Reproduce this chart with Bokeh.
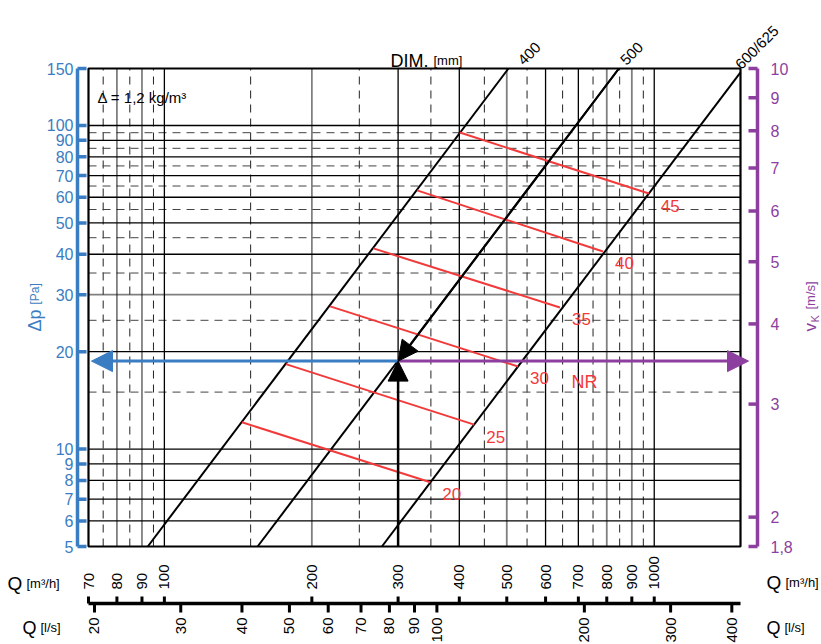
import math
from bokeh.plotting import figure
from bokeh.models import Range1d, LogScale, Arrow, NormalHead, ColumnDataSource
from bokeh.core.properties import value
from bokeh.embed import file_html
from bokeh.resources import INLINE

# ---------------- data ----------------
dp_min, dp_max = 5, 150          # Δp axis extent [Pa]
q_min, q_max = 70, 1500          # Q axis extent [m3/h]
v_min, v_max = 1.8, 10           # vK axis extent [m/s]

dp_ticks = [5, 6, 7, 8, 9, 10, 20, 30, 40, 50, 60, 70, 80, 90, 100, 150]
v_ticks = [1.8, 2, 3, 4, 5, 6, 7, 8, 9, 10]
v_tick_labels = ["1,8", "2", "3", "4", "5", "6", "7", "8", "9", "10"]
q_m3h_ticks = [70, 80, 90, 100, 200, 300, 400, 500, 600, 700, 800, 900, 1000]
q_ls_ticks = [20, 30, 40, 50, 60, 70, 80, 90, 100, 200, 300, 400]

grid_q_solid = [100, 300, 400, 600, 700, 1000]
grid_q_dotted = [80, 90, 200, 500, 800, 900]
grid_q_dashed = [75, 85, 95, 150, 250, 350, 450, 550, 650, 750, 850, 950]
grid_dp_solid = [6, 7, 8, 9, 10, 20, 40, 50, 60, 70, 80, 90, 100]
grid_dp_dotted = [30]
grid_dp_dashed = [15, 25, 35, 45, 55, 65, 75, 85, 95]

dim_labels = ["400", "500", "600/625"]
dim_q_bottom = [92.5, 155, 278]      # Q where each DIM line meets 5 Pa
dim_q_top = [504, 847, 1500]
dim_dp_top = [150, 150, 146]

nr_levels = [20, 25, 30, 35, 40, 45]
nr_q_start = [144, 177, 218, 267, 328, 401]
nr_dp_start = [12.1, 18.3, 27.6, 41.7, 63.0, 95.1]
nr_q_end = [349, 429, 527, 642, 786, 975]
nr_dp_end = [7.9, 11.9, 18.0, 27.4, 40.8, 61.6]

example_q = 300       # m3/h
example_dp = 18.7     # Pa

M3H_PER_LS = 3.6

# ---------------- layout (pixels) ----------------
W, H = 821, 644
BOX_L, BOX_R, BOX_T, BOX_B = 88, 740, 68, 546

kx = (BOX_R - BOX_L) / math.log10(q_max / q_min)
ky = (BOX_B - BOX_T) / math.log10(dp_max / dp_min)
kv = (BOX_B - BOX_T) / math.log10(v_max / v_min)


def xq(px):
    """pixel x -> Q [m3/h] (layout helper for axes and free texts)"""
    return q_min * 10 ** ((px - BOX_L) / kx)


def ydp(py):
    """pixel y -> Δp [Pa] (layout helper for axes and free texts)"""
    return dp_min * 10 ** ((BOX_B - py) / ky)


BLUE = "#3a7dc2"
PURPLE = "#8c3f9e"
RED = "#f23a3a"
FONT = "Liberation Sans"

p = figure(width=W, height=H, x_axis_type="log", y_axis_type="log",
           x_range=Range1d(xq(0), xq(W)), y_range=Range1d(ydp(H), ydp(0)),
           x_axis_location=None, y_axis_location=None, title=None,
           output_backend="svg", toolbar_location=None, min_border=0)
p.outline_line_color = None
p.background_fill_color = "white"
p.border_fill_color = "white"
p.grid.visible = False

p.extra_x_ranges = {"ls": Range1d(xq(0) / M3H_PER_LS, xq(W) / M3H_PER_LS)}
p.extra_x_scales = {"ls": LogScale()}
p.extra_y_ranges = {"v": Range1d(v_min * 10 ** ((BOX_B - H) / kv),
                                 v_max * 10 ** (BOX_T / kv))}
p.extra_y_scales = {"v": LogScale()}


def txt(x, y, text, size, color="black", align="left", baseline="alphabetic",
        angle=0.0, **kw):
    p.text(x=x, y=y, text=text, angle=angle, text_align=align, text_baseline=baseline,
           text_font=value(FONT), text_font_size=size, text_color=color, **kw)


# ---------------- grid ----------------
def vsegs(qs, **kw):
    p.segment(x0=qs, y0=[dp_min] * len(qs), x1=qs, y1=[dp_max] * len(qs), **kw)


def hsegs(dps, **kw):
    p.segment(x0=[q_min] * len(dps), y0=dps, x1=[q_max] * len(dps), y1=dps, **kw)


vsegs(grid_q_dashed, line_color="#222222", line_width=1, line_dash="8 6")
hsegs(grid_dp_dashed, line_color="#444444", line_width=1, line_dash="8 6")
vsegs(grid_q_solid, line_color="black", line_width=1.3)
vsegs(grid_q_dotted, line_color="black", line_width=1.8, line_dash="1 1")
hsegs(grid_dp_solid, line_color="black", line_width=1.3)
hsegs(grid_dp_dotted, line_color="black", line_width=1.8, line_dash="1 1")

# plot box
p.quad(left=[q_min], right=[q_max], bottom=[dp_min], top=[dp_max],
       fill_color=None, line_color="black", line_width=2.2)

# ---------------- left axis: Δp [Pa] ----------------
n = len(dp_ticks)
p.segment(x0=[xq(77)], y0=[dp_min], x1=[xq(77)], y1=[dp_max], line_color=BLUE, line_width=3.5)
p.segment(x0=[xq(77)] * n, y0=dp_ticks, x1=[xq(86)] * n, y1=dp_ticks,
          line_color=BLUE, line_width=3.5)
txt([xq(73)] * n, dp_ticks, [str(t) for t in dp_ticks], "16px", BLUE,
    align="right", baseline="middle")
txt([xq(34)], [ydp(331)], ["Δp"], "18px", BLUE, angle=math.pi / 2)
txt([xq(34)], [ydp(304)], ["[Pa]"], "12px", BLUE, angle=math.pi / 2)

# ---------------- right axis: vK [m/s] ----------------
n = len(v_ticks)
p.segment(x0=[xq(757)], y0=[v_min], x1=[xq(757)], y1=[v_max], y_range_name="v",
          line_color=PURPLE, line_width=3.5)
p.segment(x0=[xq(748)] * n, y0=v_ticks, x1=[xq(757)] * n, y1=v_ticks, y_range_name="v",
          line_color=PURPLE, line_width=3.5)
txt([xq(770)] * n, v_ticks, v_tick_labels, "16px", PURPLE, baseline="middle",
    y_range_name="v")
txt([xq(810)], [ydp(331)], ["v"], "17px", PURPLE, angle=math.pi / 2)
txt([xq(814)], [ydp(322)], ["K"], "11px", PURPLE, angle=math.pi / 2)
txt([xq(810)], [ydp(309)], ["[m/s]"], "13px", PURPLE, angle=math.pi / 2)

# ---------------- bottom shared Q axis ----------------
nm, nl = len(q_m3h_ticks), len(q_ls_ticks)
p.segment(x0=[q_min], y0=[ydp(603)], x1=[q_max], y1=[ydp(603)],
          line_color="black", line_width=3.5)
p.segment(x0=q_m3h_ticks, y0=[ydp(603)] * nm, x1=q_m3h_ticks, y1=[ydp(596)] * nm,
          line_color="black", line_width=3)
p.segment(x0=q_ls_ticks, y0=[ydp(603)] * nl, x1=q_ls_ticks, y1=[ydp(612)] * nl,
          x_range_name="ls", line_color="black", line_width=3)
txt(q_m3h_ticks, [ydp(589)] * nm, [str(q) for q in q_m3h_ticks], "15px",
    baseline="middle", angle=math.pi / 2)
txt(q_ls_ticks, [ydp(617)] * nl, [str(q) for q in q_ls_ticks], "15px",
    align="right", baseline="middle", angle=math.pi / 2, x_range_name="ls")

txt([xq(7)], [ydp(583)], ["Q"], "19px")
txt([xq(26)], [ydp(583)], ["[m³/h]"], "13px")
txt([xq(22)], [ydp(627)], ["Q"], "18px")
txt([xq(40)], [ydp(627)], ["[l/s]"], "13px")
txt([xq(766)], [ydp(582)], ["Q"], "19px")
txt([xq(785)], [ydp(582)], ["[m³/h]"], "13px")
txt([xq(766)], [ydp(627)], ["Q"], "18px")
txt([xq(784)], [ydp(627)], ["[l/s]"], "13px")

# ---------------- DIM lines ----------------
p.segment(x0=dim_q_bottom, y0=[dp_min] * len(dim_q_bottom), x1=dim_q_top, y1=dim_dp_top,
          line_color="black", line_width=2)
dim_src = ColumnDataSource(dict(x=dim_q_top, y=dim_dp_top, t=dim_labels, dx=[12, 4, -3]))
p.text(x="x", y="y", text="t", x_offset="dx", y_offset=-6, angle=math.pi / 4,
       source=dim_src, text_align="left", text_baseline="alphabetic",
       text_font=value(FONT), text_font_size="15px", text_color="black")
txt([xq(390)], [ydp(60)], ["DIM."], "18px")
txt([xq(433)], [ydp(60)], ["[mm]"], "13px")
txt([xq(97)], [ydp(97)], ["Δ = 1,2 kg/m³"], "15px")

# ---------------- NR lines ----------------
p.segment(x0=nr_q_start, y0=nr_dp_start, x1=nr_q_end, y1=nr_dp_end,
          line_color=RED, line_width=2)
txt(nr_q_end, nr_dp_end, [str(v) for v in nr_levels], "17px", RED, baseline="middle",
    x_offset=12, y_offset=12)
txt([xq(571)], [ydp(381)], ["NR"], "18px", RED, baseline="middle")

# ---------------- example arrows ----------------
p.add_layout(Arrow(x_start=example_q, y_start=example_dp, x_end=xq(91), y_end=example_dp,
                   line_color=BLUE, line_width=3,
                   end=NormalHead(size=21, fill_color=BLUE, line_color=BLUE, line_width=1)))
p.add_layout(Arrow(x_start=example_q, y_start=example_dp, x_end=xq(748), y_end=example_dp,
                   line_color=PURPLE, line_width=3,
                   end=NormalHead(size=21, fill_color=PURPLE, line_color=PURPLE, line_width=1)))
p.add_layout(Arrow(x_start=example_q, y_start=dp_min, x_end=example_q, y_end=example_dp,
                   line_color="black", line_width=2.5,
                   end=NormalHead(size=20, fill_color="black", line_color="black", line_width=1)))
p.add_layout(Arrow(x_start=dim_q_top[1], y_start=dim_dp_top[1], x_end=example_q, y_end=example_dp,
                   line_color="black", line_width=2,
                   end=NormalHead(size=20, fill_color="black", line_color="black", line_width=1)))

open("out.html", "w").write(file_html(p, INLINE))
